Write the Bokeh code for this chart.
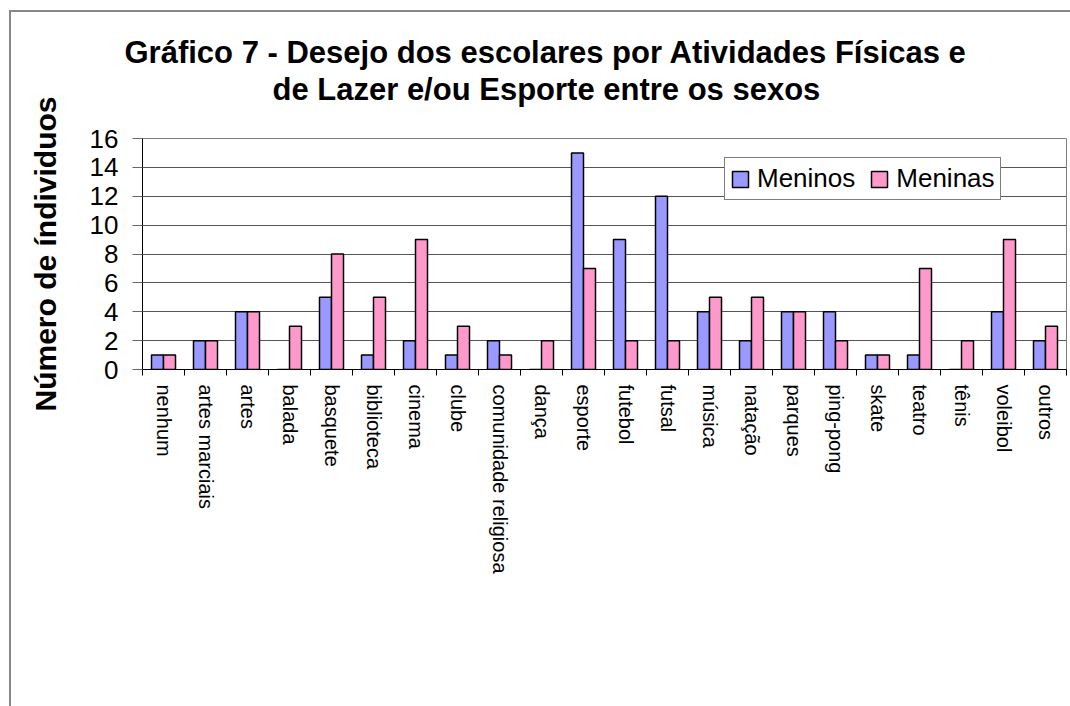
from bokeh.plotting import figure
from bokeh.models import (Range1d, FixedTicker, Title, Legend, LegendItem,
                          ColumnDataSource)
from bokeh.embed import file_html
from bokeh.resources import INLINE

# ---------------- data ----------------
categories = ["nenhum", "artes marciais", "artes", "balada", "basquete",
              "biblioteca", "cinema", "clube", "comunidade religiosa", "dança",
              "esporte", "futebol", "futsal", "música", "natação", "parques",
              "ping-pong", "skate", "teatro", "tênis", "voleibol", "outros"]
meninos = [1, 2, 4, 0, 5, 1, 2, 1, 2, 0, 15, 9, 12, 4, 2, 4, 4, 1, 1, 0, 4, 2]
meninas = [1, 2, 4, 3, 8, 5, 9, 3, 1, 2, 7, 2, 2, 5, 5, 4, 2, 1, 7, 2, 9, 3]
y_ticks = [0, 2, 4, 6, 8, 10, 12, 14, 16]
series_names = ["Meninos", "Meninas"]
title_line1 = "Gráfico 7 - Desejo dos escolares por Atividades Físicas e"
title_line2 = "de Lazer e/ou Esporte entre os sexos"
y_label = "Número de índividuos"

FONT = "Liberation Sans"
BLUE = "#9999FF"
PINK = "#FF99CC"

n = len(categories)
centers = [i + 0.5 for i in range(n)]
bar_w = 1 / 3.5
src = ColumnDataSource(dict(
    xb=[c - bar_w / 2 for c in centers],
    xg=[c + bar_w / 2 for c in centers],
    meninos=meninos,
    meninas=meninas,
))

W, H = 1070, 706
p = figure(width=W, height=H,
           x_range=Range1d(0, n), y_range=Range1d(0, y_ticks[-1]),
           output_backend="svg", toolbar_location=None, title=None,
           min_border_left=142, min_border_right=4,
           min_border_top=138, min_border_bottom=337)
# outer chart border (left and top only, as in the reference crop)
p.styles = {"box-shadow": "inset 9px 10px 0 0 #ffffff, inset 11px 12px 0 0 #888888"}
p.border_fill_alpha = 0
p.background_fill_color = "white"
p.outline_line_color = "#808080"
p.outline_line_width = 1

r1 = p.vbar(x="xb", top="meninos", bottom=0, width=bar_w, source=src,
            fill_color=BLUE, line_color="black", line_width=1.5)
r2 = p.vbar(x="xg", top="meninas", bottom=0, width=bar_w, source=src,
            fill_color=PINK, line_color="black", line_width=1.5)

# two-line title; panels stack outward from the frame:
# spacer (closest), then line 2, then line 1
spacer = Title(text=" ", text_font=FONT, text_font_size="27px", standoff=0)
t2 = Title(text=title_line2, align="left", offset=130,
           text_font=FONT, text_font_size="31px", text_font_style="bold",
           text_color="black", standoff=0)
t1 = Title(text=title_line1, align="left", offset=-18,
           text_font=FONT, text_font_size="31px", text_font_style="bold",
           text_color="black", standoff=0)
p.add_layout(spacer, "above")
p.add_layout(t2, "above")
p.add_layout(t1, "above")

# x axis
xa = p.xaxis[0]
xa.ticker = FixedTicker(ticks=centers, minor_ticks=list(range(n + 1)))
xa.major_label_overrides = {c: name for c, name in zip(centers, categories)}
xa.major_label_orientation = "vertical"
xa.major_tick_in = 0
xa.major_tick_out = 0
xa.minor_tick_in = 0
xa.minor_tick_out = 6
xa.minor_tick_line_color = "black"
xa.major_label_standoff = 9
xa.major_label_text_font = FONT
xa.major_label_text_font_size = "20px"
xa.major_label_text_color = "black"
xa.axis_line_color = "black"

# y axis
ya = p.yaxis[0]
ya.ticker = FixedTicker(ticks=y_ticks, minor_ticks=[])
ya.major_tick_in = 0
ya.major_tick_out = 10
ya.major_tick_line_color = "#666666"
ya.major_label_standoff = 14
ya.major_label_text_font = FONT
ya.major_label_text_font_size = "26px"
ya.major_label_text_color = "black"
ya.axis_line_color = "black"
ya.axis_label = y_label
ya.axis_label_text_font = FONT
ya.axis_label_text_font_size = "30px"
ya.axis_label_text_font_style = "bold"
ya.axis_label_text_color = "black"
ya.axis_label_standoff = 25

p.xgrid.visible = False
p.ygrid.ticker = FixedTicker(ticks=y_ticks)
p.ygrid.grid_line_color = "#555555"
p.ygrid.grid_line_width = 1

legend = Legend(items=[LegendItem(label=series_names[0], renderers=[r1]),
                       LegendItem(label=series_names[1], renderers=[r2])],
                location=(582, 169), orientation="horizontal",
                label_text_font=FONT, label_text_font_size="26px",
                label_text_color="black",
                glyph_width=20, glyph_height=20, label_standoff=7,
                spacing=14, padding=5, margin=0,
                border_line_color="black", border_line_width=1,
                background_fill_color="white", background_fill_alpha=1)
p.add_layout(legend, "center")

open("out.html", "w").write(file_html(p, INLINE))
